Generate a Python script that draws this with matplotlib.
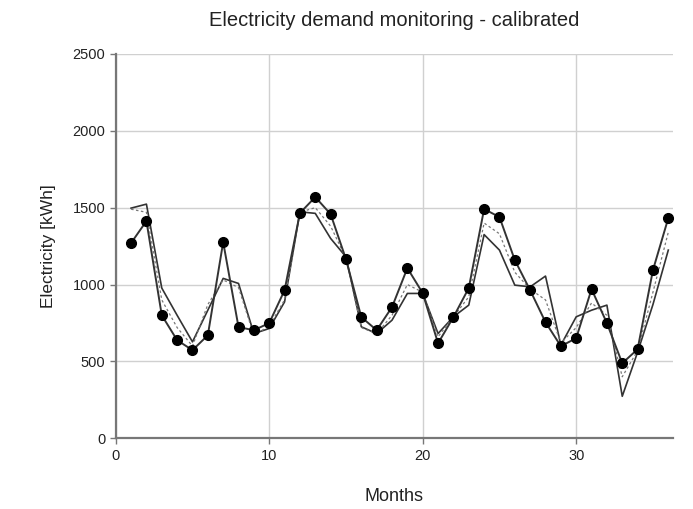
import numpy as np
import matplotlib
matplotlib.use("Agg")
import matplotlib.pyplot as plt

plt.rcParams['font.family'] = ['Liberation Sans', 'DejaVu Sans']

months = np.arange(1, 37)

# measured demand (dots)
measured = [1270, 1413, 800, 638, 573, 670, 1276, 723, 703, 749,
            963, 1465, 1569, 1458, 1165, 788, 703, 853, 1107, 944,
            618, 788, 977, 1491, 1439, 1159, 963, 755, 599, 651,
            970, 749, 488, 579, 1094, 1432]

# model before calibration (solid)
model = [1497, 1523, 977, 800, 627, 833, 1040, 1007, 681, 714,
         887, 1473, 1463, 1300, 1180, 725, 681, 768, 942, 942,
         681, 790, 866, 1325, 1224, 996, 985, 1055, 606, 790,
         833, 866, 273, 560, 870, 1224]

# calibrated model (dotted)
calibrated = [1490, 1470, 900, 720, 600, 870, 1030, 980, 670, 730,
              900, 1470, 1500, 1380, 1170, 720, 680, 800, 1000, 950,
              660, 790, 920, 1400, 1330, 1080, 970, 900, 620, 720,
              880, 800, 400, 570, 950, 1340]

fig = plt.figure(figsize=(6.93, 5.09), dpi=100)
ax = fig.add_axes([0.167, 0.139, 0.804, 0.755])

ax.plot(months, model, color='#333333', lw=1.2, zorder=3, clip_on=False)
ax.plot(months, calibrated, color='#777777', lw=0.9, ls=(0, (2, 2)),
        zorder=3, clip_on=False)
ax.plot(months, measured, color='#333333', lw=1.4, marker='o', ms=7,
        mfc='black', mec='black', zorder=4, clip_on=False)

ax.set_xlim(0, 36.3)
ax.set_ylim(0, 2500)
ax.set_xticks([0, 10, 20, 30])
ax.set_yticks([0, 500, 1000, 1500, 2000, 2500])
ax.grid(True, color='#d0d0d0', lw=1)
ax.set_axisbelow(True)

for s in ['top', 'right']:
    ax.spines[s].set_visible(False)
for s in ['left', 'bottom']:
    ax.spines[s].set_color('#777777')
    ax.spines[s].set_linewidth(1.6)

ax.tick_params(direction='out', length=4, width=1, color='#777777',
               labelsize=10.5, labelcolor='#222222')

ax.set_title('Electricity demand monitoring - calibrated', fontsize=14.5,
             color='#222222', pad=20)
ax.set_xlabel('Months', fontsize=13, color='#222222', labelpad=18)
ax.set_ylabel('Electricity [kWh]', fontsize=12.5, color='#222222', labelpad=12)

fig.savefig('out.png', dpi=100)
